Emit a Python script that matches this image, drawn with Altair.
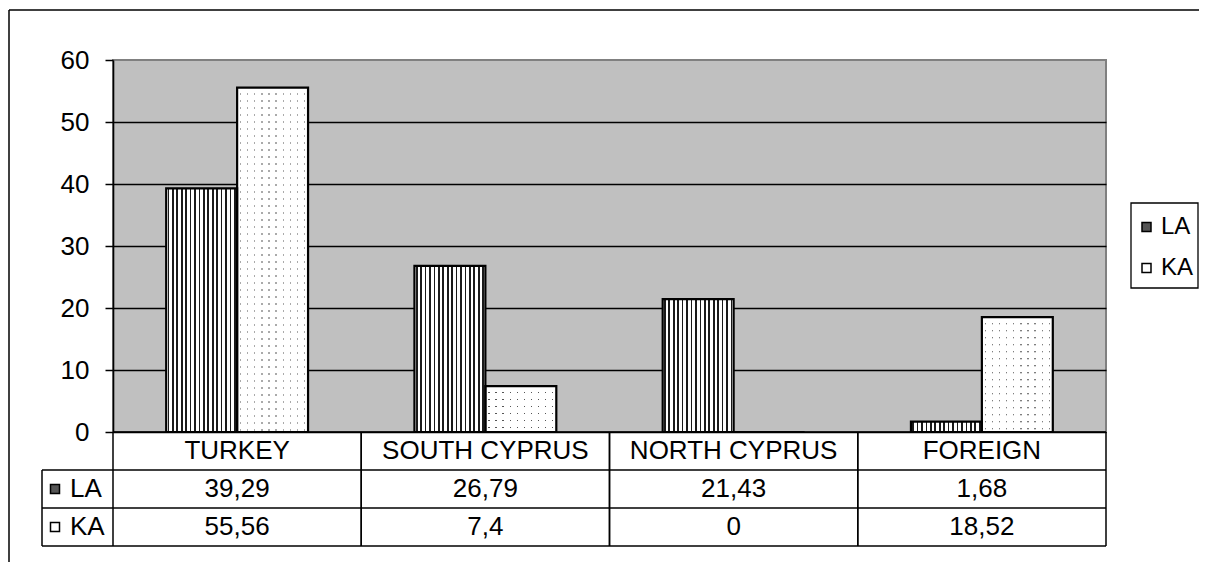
import altair as alt
import pandas as pd

# ---------------- data ----------------
categories = ["TURKEY", "SOUTH CYPRUS", "NORTH CYPRUS", "FOREIGN"]
series = ["LA", "KA"]
la_values = [39.29, 26.79, 21.43, 1.68]
ka_values = [55.56, 7.4, 0.0, 18.52]
y_ticks = [0, 10, 20, 30, 40, 50, 60]

rows = []
for s, vals in zip(series, [la_values, ka_values]):
    for c, v in zip(categories, vals):
        rows.append({"category": c, "series": s, "value": v})
df = pd.DataFrame(rows)
ser_df = pd.DataFrame({"series": series})
cat_df = pd.DataFrame({"category": categories})
one = alt.Data(values=[{"k": 0}])

# ---------------- style ----------------
W, H = 993, 372
FONT = "Liberation Sans"
ROW = 38
ROW_TOP = H            # table header row starts at bottom of plot
LEFT_COL = -71         # left edge of the table's series column


def stripe_gradient(n, frac, dark, light):
    stops = [alt.GradientStop(offset=0, color=light)]
    for i in range(n):
        c = (i + 0.5) / n
        a, b = round(c - frac / 2, 4), round(c + frac / 2, 4)
        stops += [
            alt.GradientStop(offset=a, color=light),
            alt.GradientStop(offset=a, color=dark),
            alt.GradientStop(offset=b, color=dark),
            alt.GradientStop(offset=b, color=light),
        ]
    stops.append(alt.GradientStop(offset=1, color=light))
    return alt.LinearGradient(gradient="linear", stops=stops, x1=0, x2=1, y1=0, y2=0)


la_fill = stripe_gradient(16, 0.024, "#1a1a1a", "#ffffff")
ka_fill = stripe_gradient(10, 0.018, "#555555", "#ffffff")

x_scale = alt.Scale(domain=categories, paddingInner=0, paddingOuter=0)
x_enc = alt.X("category:N", sort=categories, scale=x_scale, axis=None)
xoff_enc = alt.XOffset("series:N",
                       scale=alt.Scale(domain=series, paddingInner=0, paddingOuter=0.75))
y_enc = alt.Y(
    "value:Q",
    scale=alt.Scale(domain=[0, 60], nice=False, zero=True),
    axis=alt.Axis(
        values=y_ticks, title=None, grid=True,
        gridColor={"condition": {"test": "datum.value === 60", "value": "transparent"},
                   "value": "black"},
        gridWidth=1.3,
        domainColor="black", domainWidth=1.6,
        tickColor="black", tickWidth=1.5, tickSize=8,
        labelFont=FONT, labelFontSize=26, labelColor="black", labelPadding=16,
    ),
)

fill_enc = alt.Fill(
    "series:N",
    scale=alt.Scale(domain=series, range=["#555555", "#ffffff"]),
    legend=alt.Legend(
        orient="none", legendX=1021.5, legendY=155, title=None,
        padding=0,
        symbolType="square", symbolSize=81, symbolStrokeColor="black",
        symbolStrokeWidth=1.5, symbolOpacity=1,
        labelFont=FONT, labelFontSize=24, labelColor="black",
        labelOffset=2.5, rowPadding=17,
    ),
)

# ---------------- bars ----------------
la_bars = alt.Chart(df).transform_filter("datum.series === 'LA'").mark_bar(
    fill=la_fill, strokeWidth=0
).encode(x=x_enc, xOffset=xoff_enc, y=y_enc)

ka_bars = alt.Chart(df).transform_filter("datum.series === 'KA'").mark_bar(
    fill=ka_fill, strokeWidth=0
).encode(x=x_enc, xOffset=xoff_enc, y=y_enc)

# white dashed cover turns the thin lines of the KA fill into dots
ka_dots = alt.Chart(df).transform_filter("datum.series === 'KA'").mark_rule(
    color="white", strokeWidth=71, strokeDash=[6, 1]
).encode(x=x_enc, xOffset=xoff_enc, y=y_enc, y2=alt.datum(0))

outlines = alt.Chart(df).mark_bar(
    fillOpacity=0, stroke="black", strokeWidth=2.2
).encode(x=x_enc, xOffset=xoff_enc, y=y_enc)

# ---------------- data table ----------------
line_style = dict(color="black", strokeWidth=1.5)
hlines = [
    alt.Chart(one).mark_rule(**line_style).encode(
        x=alt.value(0), x2=alt.value(W), y=alt.value(ROW_TOP)),
]
for k in (1, 2, 3):
    hlines.append(alt.Chart(one).mark_rule(**line_style).encode(
        x=alt.value(LEFT_COL), x2=alt.value(W), y=alt.value(ROW_TOP + k * ROW)))
left_v = alt.Chart(one).mark_rule(**line_style).encode(
    x=alt.value(LEFT_COL), y=alt.value(ROW_TOP + ROW), y2=alt.value(ROW_TOP + 3 * ROW))

vlines_l = alt.Chart(cat_df).mark_rule(**line_style).encode(
    x=alt.X("category:N", sort=categories, bandPosition=0, scale=x_scale, axis=None),
    y=alt.value(ROW_TOP), y2=alt.value(ROW_TOP + 3 * ROW))
vlines_r = alt.Chart(cat_df).mark_rule(**line_style).encode(
    x=alt.X("category:N", sort=categories, bandPosition=1, scale=x_scale, axis=None),
    y=alt.value(ROW_TOP), y2=alt.value(ROW_TOP + 3 * ROW))

text_style = dict(font=FONT, fontSize=26, color="black", baseline="middle", align="center")
header = alt.Chart(cat_df).mark_text(**text_style).encode(
    x=x_enc, y=alt.value(ROW_TOP + ROW / 2), text="category:N")

value_layers = []
for i, s in enumerate(series):
    value_layers.append(
        alt.Chart(df).transform_filter(f"datum.series === '{s}'")
        .transform_calculate(label="replace(toString(datum.value), '.', ',')")
        .mark_text(**text_style)
        .encode(x=x_enc, y=alt.value(ROW_TOP + ROW * (i + 1) + ROW / 2), text="label:N")
    )

key_layers = []
for i, s in enumerate(series):
    yy = ROW_TOP + ROW * (i + 1) + ROW / 2
    key_layers.append(
        alt.Chart(ser_df).transform_filter(f"datum.series === '{s}'")
        .mark_point(shape="square", filled=True, size=81, stroke="black",
                    strokeWidth=1.5, opacity=1)
        .encode(x=alt.value(LEFT_COL + 13), y=alt.value(yy), fill=fill_enc)
    )
    key_layers.append(
        alt.Chart(ser_df).transform_filter(f"datum.series === '{s}'")
        .mark_text(font=FONT, fontSize=26, color="black", baseline="middle", align="left")
        .encode(x=alt.value(LEFT_COL + 28), y=alt.value(yy), text="series:N")
    )

# legend box
legend_box = alt.Chart(one).mark_rect(
    fill="white", stroke="black", strokeWidth=1.3
).encode(x=alt.value(1018), x2=alt.value(1085), y=alt.value(143), y2=alt.value(228))

# outer frame of the chart object (continues past the picture's right/bottom)
frame = alt.Chart(one).mark_rule(color="black", strokeWidth=1.5).encode(
    x=alt.value(-104), x2=alt.value(1086), y=alt.value(-50))
frame_left = alt.Chart(one).mark_rule(color="black", strokeWidth=1.5).encode(
    x=alt.value(-104), y=alt.value(-50), y2=alt.value(700))

chart = alt.layer(
    legend_box,
    la_bars, ka_bars, ka_dots, outlines,
    *hlines, left_v, vlines_l, vlines_r,
    header, *value_layers, *key_layers, frame, frame_left,
).properties(
    width=W, height=H,
    padding={"left": 105, "top": 52, "right": 93, "bottom": 130},
    autosize=alt.AutoSizeParams(type="none"),
    background="white",
).configure_view(
    fill="#C0C0C0", stroke="#808080", strokeWidth=2
)

chart.save("out.html", embed_options={"renderer": "svg", "actions": False})
